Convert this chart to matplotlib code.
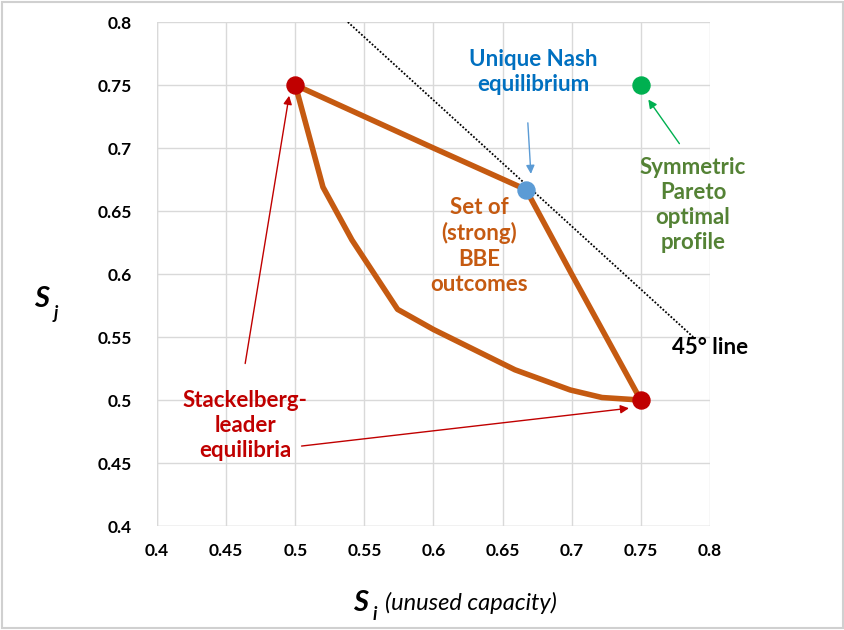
import numpy as np
import matplotlib.pyplot as plt
from matplotlib.patches import Rectangle

plt.rcParams['font.family'] = ['Lato', 'DejaVu Sans']

# outline of the set of (strong) BBE outcomes
upper_x = [0.5, 0.57, 0.6, 0.667]
upper_y = [0.75, 0.715, 0.70, 0.667]
right_x = [0.667, 0.70, 0.75]
right_y = [0.667, 0.60, 0.50]
lower_x = [0.75, 0.722, 0.699, 0.659, 0.60, 0.574, 0.541, 0.52, 0.5]
lower_y = [0.50, 0.502, 0.508, 0.524, 0.556, 0.572, 0.627, 0.669, 0.75]

stackelberg_x = [0.5, 0.75]
stackelberg_y = [0.75, 0.5]
nash = (0.667, 0.667)
pareto = (0.75, 0.75)
line45_x = [0.538, 0.788]
line45_y = [0.8, 0.55]

ticks = [0.4, 0.45, 0.5, 0.55, 0.6, 0.65, 0.7, 0.75, 0.8]
tick_labels = ["0.4", "0.45", "0.5", "0.55", "0.6", "0.65", "0.7", "0.75", "0.8"]

ORANGE = "#C55A11"
RED = "#C00000"
BLUE = "#0070C0"
LBLUE = "#5B9BD5"
GREEN = "#00B050"
OLIVE = "#548235"

fig = plt.figure(figsize=(8.45, 6.3), dpi=100)
ax = fig.add_axes([0.186, 0.165, 0.654, 0.800])
fig.patches.append(Rectangle((0.002, 0.003), 0.996, 0.994, transform=fig.transFigure,
                             fill=False, edgecolor="#D0D0D0", linewidth=1.5))

ax.set_xlim(0.4, 0.8)
ax.set_ylim(0.4, 0.8)
ax.set_xticks(ticks)
ax.set_yticks(ticks)
ax.set_xticklabels(tick_labels, fontweight="bold", fontsize=12.5)
ax.set_yticklabels(tick_labels, fontweight="bold", fontsize=12.5)
ax.tick_params(length=0, pad=12)
ax.tick_params(axis="y", pad=18)
ax.grid(True, color="#D9D9D9", linewidth=1)
for s in ax.spines.values():
    s.set_visible(False)
ax.axvline(0.4, color="#D9D9D9", linewidth=1)
ax.axhline(0.4, color="#D9D9D9", linewidth=1)

# 45 degree line
ax.plot(line45_x, line45_y, color="black", linestyle=(0, (1, 1)), linewidth=1.3, zorder=3)

# BBE set
xs = upper_x + right_x[1:] + lower_x[1:]
ys = upper_y + right_y[1:] + lower_y[1:]
ax.plot(xs, ys, color=ORANGE, linewidth=4, solid_joinstyle="round", zorder=4)

ax.scatter(stackelberg_x, stackelberg_y, s=150, color=RED, zorder=5)
ax.scatter([nash[0]], [nash[1]], s=150, color=LBLUE, zorder=5)
ax.scatter([pareto[0]], [pareto[1]], s=150, color=GREEN, zorder=5)

txt = dict(fontweight="bold", fontsize=16, ha="center", va="center", linespacing=1.25)

ax.text(0.6723, 0.7604, "Unique Nash\nequilibrium", color=BLUE, **txt)
ax.text(0.6333, 0.6223, "Set of\n(strong)\nBBE\noutcomes", color=ORANGE, **txt)
ax.text(0.7878, 0.6548, "Symmetric\nPareto\noptimal\nprofile", color=OLIVE, **txt)
ax.text(0.7725, 0.5415, "45° line", color="black", fontweight="bold", fontsize=16,
        ha="left", va="center")
ax.text(0.4637, 0.4797, "Stackelberg-\nleader\nequilibria", color=RED, **txt)

ax.annotate("", xy=(0.6705, 0.6795), xytext=(0.6683, 0.72),
            arrowprops=dict(arrowstyle="-|>,head_length=0.5,head_width=0.25",
                            color=LBLUE, lw=1, shrinkA=0, shrinkB=0), zorder=6)
ax.annotate("", xy=(0.7555, 0.7385), xytext=(0.778, 0.7035),
            arrowprops=dict(arrowstyle="-|>,head_length=0.5,head_width=0.25",
                            color=GREEN, lw=1, shrinkA=0, shrinkB=0), zorder=6)
ax.annotate("", xy=(0.4955, 0.7415), xytext=(0.4637, 0.529),
            arrowprops=dict(arrowstyle="-|>,head_length=0.5,head_width=0.25",
                            color=RED, lw=1, shrinkA=0, shrinkB=0), zorder=6)
ax.annotate("", xy=(0.7415, 0.4935), xytext=(0.5045, 0.4635),
            arrowprops=dict(arrowstyle="-|>,head_length=0.5,head_width=0.25",
                            color=RED, lw=1, shrinkA=0, shrinkB=0), zorder=6)

# axis titles
fig.text(0.040, 0.525, "S", fontsize=21, fontweight="bold", style="italic", va="center")
fig.text(0.064, 0.503, "j", fontsize=13, fontweight="bold", style="italic", va="center")
fig.text(0.418, 0.043, "S", fontsize=21, fontweight="bold", style="italic", va="center")
fig.text(0.441, 0.024, "i", fontsize=13, fontweight="bold", style="italic", va="center")
fig.text(0.456, 0.043, "(unused capacity)", fontsize=17, style="italic", va="center")

fig.savefig("out.png", dpi=100)
